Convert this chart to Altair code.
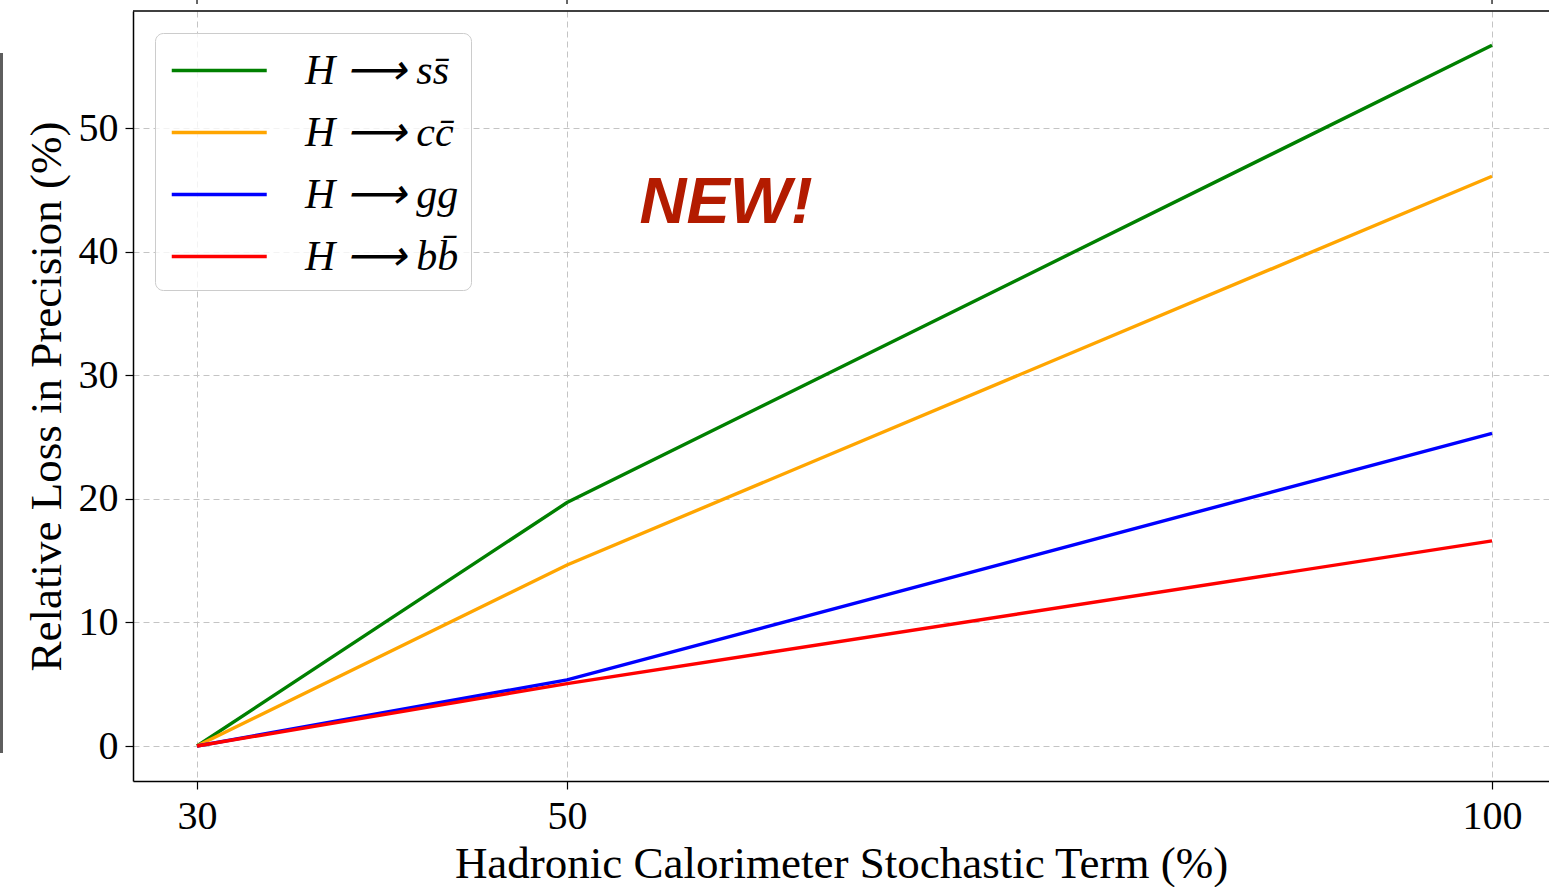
import altair as alt
import pandas as pd

# ---- data ----
x_vals = [30, 50, 100]
ss_vals = [0.0, 19.7, 56.7]
cc_vals = [0.0, 14.65, 46.1]
gg_vals = [0.0, 5.35, 25.3]
bb_vals = [0.0, 5.05, 16.6]
labels = ["H\u00a0⟶\u00a0ss\u0304", "H\u00a0⟶\u00a0cc\u0304",
          "H\u00a0⟶\u00a0gg", "H\u00a0⟶\u00a0bb\u0304"]
colors = ["#008000", "#FFA500", "#0000FF", "#FF0000"]
x_ticks = [30, 50, 100]
y_ticks = [0, 10, 20, 30, 40, 50]
x_domain = [26.54, 103.08]
y_domain = [-2.83, 59.47]
note_text = ["NEW!"]
note_x = [58.6]
note_y = [42.3]

W, H = 1416, 770
SERIF = "Liberation Serif"

rows = []
for lab, series in zip(labels, [ss_vals, cc_vals, gg_vals, bb_vals]):
    for x, y in zip(x_vals, series):
        rows.append({"x": x, "y": y, "series": lab})
df = pd.DataFrame(rows)

xscale = alt.Scale(domain=x_domain, nice=False, zero=False)
yscale = alt.Scale(domain=y_domain, nice=False, zero=False)
x_axis = alt.Axis(values=x_ticks, format="d",
                  title="Hadronic Calorimeter Stochastic Term (%)")
y_axis = alt.Axis(values=y_ticks, format="d",
                  title="Relative Loss in Precision (%)")

lines = alt.Chart(df).mark_line(strokeWidth=3.4, clip=True).encode(
    x=alt.X("x:Q", scale=xscale, axis=x_axis),
    y=alt.Y("y:Q", scale=yscale, axis=y_axis),
    color=alt.Color("series:N",
                    scale=alt.Scale(domain=labels, range=colors),
                    legend=alt.Legend(title=None, orient="none",
                                      legendX=22, legendY=22)),
)

note_df = pd.DataFrame({"t": note_text, "x": note_x, "y": note_y})
note = alt.Chart(note_df).mark_text(
    font="Liberation Sans", fontSize=65, fontWeight="bold", fontStyle="italic",
    color="#B31B00", align="center", baseline="alphabetic"
).encode(
    x=alt.X("x:Q", scale=xscale, axis=x_axis),
    y=alt.Y("y:Q", scale=yscale, axis=y_axis),
    text="t:N",
)

one = pd.DataFrame({"a": [0]})
top_border = alt.Chart(one).mark_rule(color="black", strokeWidth=1.5).encode(
    x=alt.value(0), x2=alt.value(W), y=alt.value(0)
)

tick_df = pd.DataFrame({"x": x_ticks})
top_ticks = alt.Chart(tick_df).mark_rule(color="black", strokeWidth=1.2).encode(
    x=alt.X("x:Q", scale=xscale, axis=x_axis),
    y=alt.value(-11), y2=alt.value(-7),
)

side_bar = alt.Chart(one).mark_rule(color="#5e5e5e", strokeWidth=3).encode(
    x=alt.value(-131.5), y=alt.value(42), y2=alt.value(742)
)

chart = alt.layer(lines, note, top_border, top_ticks, side_bar).properties(
    width=W, height=H,
    autosize=alt.AutoSizeParams(type="none"),
    padding={"left": 133, "top": 11, "right": 0, "bottom": 106},
    background="white",
).configure_view(
    stroke=None
).configure_axis(
    labelFont=SERIF, labelFontSize=40, labelColor="black",
    titleFont=SERIF, titleFontSize=45, titleFontWeight="normal", titleColor="black",
    tickColor="black", tickSize=8, tickWidth=1.2,
    domainColor="black", domainWidth=1.5,
    grid=True, gridColor="#c4c4c4", gridDash=[6, 4], gridWidth=1,
    labelPadding=7,
).configure_axisX(
    titlePadding=5,
).configure_axisY(
    titlePadding=9,
).configure_legend(
    symbolType="M-1,0H3", symbolSize=2256, symbolStrokeWidth=3.4, symbolOffset=3,
    labelFont=SERIF, labelFontSize=42, labelFontStyle="italic", labelColor="black",
    labelOffset=84, rowPadding=15, padding=12,
    fillColor="rgba(255,255,255,0.8)", strokeColor="#cccccc", cornerRadius=8,
    labelLimit=400,
)

chart.save("out.html", embed_options={"renderer": "svg", "actions": False})
